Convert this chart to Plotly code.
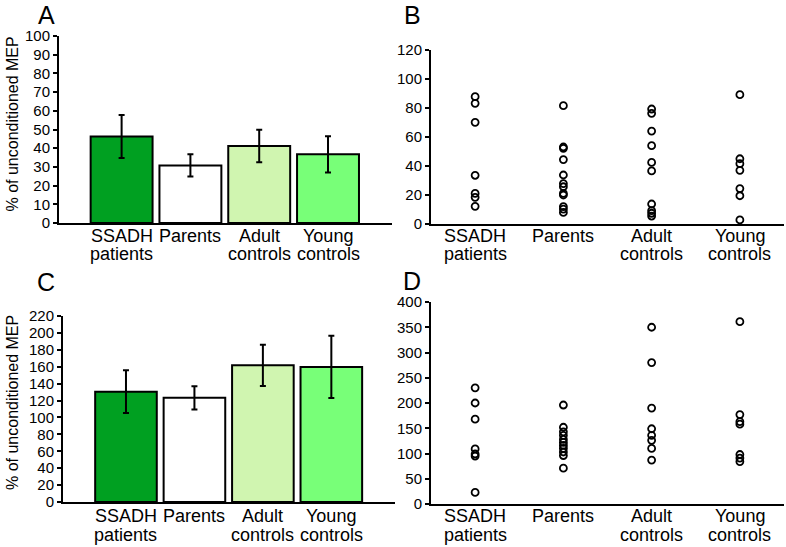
import plotly.graph_objects as go

W, H = 786, 547

cat_line1 = ["SSADH", "Parents", "Adult", "Young"]
cat_line2 = ["patients", "", "controls", "controls"]
cat_pos = [1, 2, 3, 4]
bar_colors = ["#00a021", "#ffffff", "#d0f5b0", "#78ff78"]

# Panel A: means and SEM
a_means = [46.3, 30.8, 41.2, 36.7]
a_err = [11.5, 6.0, 8.7, 9.7]
# Panel C: means and SEM
c_means = [130.5, 123.2, 161.7, 159.8]
c_err = [25.3, 13.8, 24.4, 36.8]

# Panel B: individual values
b_ssadh = [87.8, 83.2, 70.1, 33.6, 21.1, 18.4, 12.2]
b_parents = [81.6, 53.1, 52.2, 44.4, 33.8, 27.8, 25.7, 21.1, 20.0, 12.0, 10.3, 8.0]
b_adult = [79.3, 76.3, 64.1, 54.0, 42.5, 36.6, 13.8, 9.2, 7.4, 5.5]
b_young = [89.2, 45.0, 41.6, 37.0, 24.4, 19.5, 2.8]

# Panel D: individual values
d_ssadh = [230, 200, 168, 109, 99, 95, 23]
d_parents = [196, 152, 143, 136, 128, 122, 116, 110, 103, 96, 71]
d_adult = [350, 280, 190, 149, 136, 126, 110, 87]
d_young = [361, 177, 163, 158, 98, 91, 84]

a_ticks = list(range(0, 101, 10))
b_ticks = list(range(0, 121, 20))
c_ticks = list(range(0, 221, 20))
d_ticks = list(range(0, 401, 50))

FONT = "Liberation Sans, Arial, sans-serif"

fig = go.Figure()

def px_x(p):
    return p / W

def px_y(p):
    return 1 - p / H

# domains (pixel based)
dom = {
    "A": ([59, 392], [36, 223]),
    "B": ([431, 784], [50, 224]),
    "C": ([63, 395], [316, 502]),
    "D": ([431, 784], [302, 504]),
}
# vertical centres of the two category-label lines
label_rows = {"A": (236, 254), "B": (236, 254), "C": (516, 535), "D": (516, 535)}

axis_ids = {"A": ("x", "y"), "B": ("x2", "y2"), "C": ("x3", "y3"), "D": ("x4", "y4")}

# bars
for key, means, errs in [("A", a_means, a_err), ("C", c_means, c_err)]:
    xa, ya = axis_ids[key]
    fig.add_trace(go.Bar(
        x=cat_pos, y=means, width=0.9,
        marker=dict(color=bar_colors, line=dict(color="black", width=2)),
        error_y=dict(type="data", array=errs, visible=True, color="black",
                     thickness=2, width=3),
        xaxis=xa, yaxis=ya, showlegend=False,
    ))

# scatters
for key, groups in [("B", [b_ssadh, b_parents, b_adult, b_young]),
                    ("D", [d_ssadh, d_parents, d_adult, d_young])]:
    xa, ya = axis_ids[key]
    xs, ys = [], []
    for pos, g in zip(cat_pos, groups):
        xs += [pos] * len(g)
        ys += g
    fig.add_trace(go.Scatter(
        x=xs, y=ys, mode="markers",
        marker=dict(symbol="circle-open", size=7, color="black",
                    line=dict(width=1.8, color="black")),
        xaxis=xa, yaxis=ya, showlegend=False, cliponaxis=False,
    ))

layout = {}
yinfo = {"A": (a_ticks, [0, 100]), "B": (b_ticks, [0, 120]),
         "C": (c_ticks, [0, 220]), "D": (d_ticks, [0, 400])}
xrange_ = {"A": [0.09, 4.93], "C": [0.08, 4.93], "B": [0.5, 4.5], "D": [0.5, 4.5]}

annotations = []
for i, key in enumerate(["A", "B", "C", "D"]):
    (x0, x1), (y0, y1) = dom[key]
    suffix = "" if i == 0 else str(i + 1)
    ticks, yr = yinfo[key]
    layout["xaxis" + suffix] = dict(
        domain=[px_x(x0), px_x(x1)], anchor="y" + suffix,
        range=xrange_[key], tickvals=cat_pos, showticklabels=False,
        showline=True, linecolor="black", linewidth=2, ticks="",
        showgrid=False, zeroline=False, automargin=False,
    )
    layout["yaxis" + suffix] = dict(
        domain=[px_y(y1), px_y(y0)], anchor="x" + suffix,
        range=yr, tickvals=ticks,
        showline=True, linecolor="black", linewidth=2,
        ticks="outside", ticklen=4, tickwidth=1.5, tickcolor="black",
        showgrid=False, zeroline=False, automargin=False,
        tickfont=dict(family=FONT, size=15, color="black"),
    )
    r1, r2 = label_rows[key]
    for pos, t1, t2 in zip(cat_pos, cat_line1, cat_line2):
        for txt, row in ((t1, r1), (t2, r2)):
            if not txt:
                continue
            annotations.append(dict(
                text=txt, x=pos, y=px_y(row), xref="x" + suffix, yref="paper",
                showarrow=False, xanchor="center", yanchor="middle",
                font=dict(family=FONT, size=18, color="black")))

for letter, (x, y) in {"A": (46, 15), "B": (412, 15), "C": (46, 282), "D": (412, 281)}.items():
    annotations.append(dict(text=letter, x=px_x(x), y=px_y(y), xref="paper", yref="paper",
                            showarrow=False, xanchor="center", yanchor="middle",
                            font=dict(family=FONT, size=25, color="black")))
for yc in [(36 + 223) / 2 - 5, (316 + 502) / 2 - 6]:
    annotations.append(dict(text="% of unconditioned MEP", x=px_x(12), y=px_y(yc),
                            xref="paper", yref="paper", showarrow=False, textangle=-90,
                            xanchor="center", yanchor="middle",
                            font=dict(family=FONT, size=16, color="black")))

fig.update_layout(
    width=W, height=H, margin=dict(l=0, r=0, t=0, b=0),
    paper_bgcolor="white", plot_bgcolor="white",
    annotations=annotations, bargap=0.1,
    font=dict(family=FONT, color="black"),
    **layout,
)

fig.write_html(
    "out.html",
    config={"displayModeBar": False},
    post_script="document.body.style.margin='0';document.body.style.overflow='hidden';",
)
